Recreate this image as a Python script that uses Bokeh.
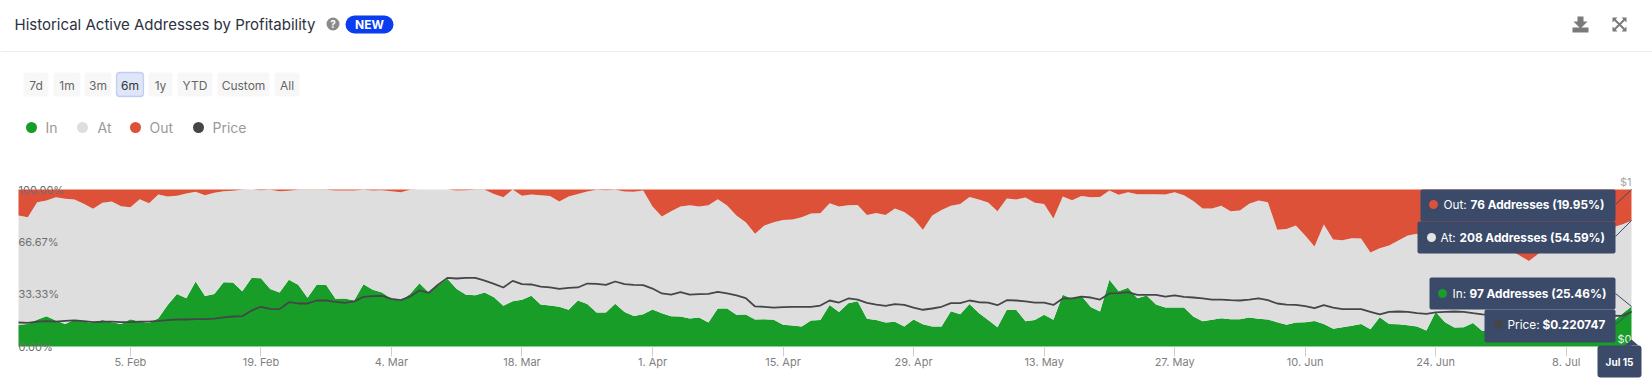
from datetime import datetime, timedelta
from bokeh.plotting import figure
from bokeh.embed import file_html
from bokeh.resources import INLINE
from bokeh.models import (ColumnDataSource, Range1d, LinearAxis, FixedTicker, PrintfTickFormatter,
                          DatetimeTickFormatter, Label, BoxAnnotation, PolyAnnotation, Arrow)

START = datetime(2024, 1, 24)

in_pct = [13.8,14.4,17.0,19.3,16.6,14.4,17.0,15.9,14.9,16.8,15.5,14.4,17.4,15.9,14.9,18.0,26.5,33.5,30.8,41.4,
          32.1,33.5,41.0,40.8,35.2,43.7,43.5,36.7,34.4,42.5,39.3,31.0,39.5,39.1,30.4,30.6,29.3,39.7,36.1,34.4,
          30.4,29.3,33.5,40.3,34.4,38.9,43.1,36.7,32.9,32.7,34.4,31.4,25.9,28.9,29.7,32.3,26.7,26.1,25.3,23.4,
          29.3,27.0,21.7,21.7,27.2,21.9,19.5,20.6,23.6,21.2,19.3,19.1,17.8,18.5,15.3,24.2,24.2,20.2,20.4,17.2,
          17.4,17.0,13.8,13.4,12.7,16.6,16.8,26.5,21.9,27.6,28.9,17.6,16.8,15.3,15.7,12.7,17.2,14.2,12.7,12.7,
          22.5,20.6,27.0,21.4,16.8,12.3,23.4,23.4,16.1,16.8,20.2,17.0,32.9,30.4,32.3,25.1,22.3,42.5,35.2,37.4,
          30.8,32.5,26.7,24.8,24.8,24.8,19.1,16.1,17.0,18.0,17.4,17.4,18.5,17.6,17.2,15.5,13.8,15.3,15.5,16.3,
          14.4,11.3,12.3,13.2,14.4,11.0,18.7,14.4,14.2,13.6,12.7,10.2,21.9,15.5,12.1,12.3,14.9,9.8,10.6,9.3,
          10.2,8.9,9.8,10.6,9.3,10.2,11.0,9.8,10.6,11.9,13.2,15.5,20.8,25.46]

out_pct = [16.6,17.6,8.1,7.0,4.9,5.9,6.4,9.1,12.3,8.5,7.6,10.6,11.3,6.2,8.7,3.2,4.5,4.0,2.5,1.5,
           3.6,2.1,1.1,0.8,0.2,0.0,0.4,0.2,1.1,0.8,0.2,0.2,0.2,0.2,0.6,0.6,0.6,0.2,0.6,0.4,
           1.1,1.7,0.2,0.0,0.0,0.0,0.0,0.6,0.4,0.2,0.2,2.8,4.9,0.0,4.0,3.2,3.6,4.2,7.6,4.5,
           2.8,1.3,0.2,0.4,0.2,1.3,1.5,0.6,10.8,17.2,13.8,10.8,10.0,10.8,10.0,6.2,10.2,16.6,20.8,28.2,
           22.9,20.8,19.5,19.1,17.6,15.3,15.1,8.7,10.8,10.0,9.8,16.3,14.9,16.3,12.1,14.4,18.7,25.7,16.6,13.0,
           10.4,9.3,4.7,6.4,8.3,13.8,5.7,6.4,5.1,8.5,9.3,18.5,4.5,6.8,4.2,4.9,4.7,0.6,3.4,1.7,
           3.0,3.0,3.0,3.2,1.7,3.6,7.4,12.1,12.1,10.4,13.8,13.4,9.1,7.0,8.1,25.7,25.1,22.9,29.3,36.3,
           22.3,31.8,32.3,31.0,31.2,40.1,37.4,35.7,32.5,29.3,28.2,30.4,31.4,29.3,30.4,32.5,33.5,31.4,33.5,35.7,
           38.9,42.0,45.6,41.0,37.8,35.7,33.5,31.4,28.2,26.1,25.1,24.0,22.3,19.95]

price = [.153,.151,.159,.161,.159,.163,.166,.161,.155,.159,.159,.155,.155,.159,.159,.163,.168,.172,.172,.174,
         .174,.178,.185,.191,.193,.229,.253,.240,.238,.282,.274,.274,.293,.293,.284,.278,.287,.316,.321,.323,
         .304,.295,.318,.357,.342,.393,.437,.433,.437,.437,.420,.399,.376,.418,.397,.395,.382,.376,.367,.374,
         .376,.401,.399,.393,.414,.397,.393,.391,.369,.338,.331,.346,.331,.333,.335,.348,.338,.325,.308,.255,
         .253,.248,.251,.253,.253,.253,.261,.293,.280,.306,.299,.278,.267,.259,.270,.265,.248,.234,.242,.253,
         .276,.276,.293,.282,.280,.263,.295,.293,.287,.280,.280,.265,.306,.306,.318,.312,.299,.338,.340,.346,
         .329,.329,.329,.318,.325,.316,.312,.306,.299,.299,.295,.293,.299,.306,.295,.274,.267,.265,.257,.244,
         .263,.248,.238,.238,.238,.221,.204,.221,.223,.221,.212,.208,.217,.221,.223,.221,.212,.204,.202,.200,
         .202,.198,.200,.204,.202,.198,.196,.200,.204,.200,.196,.197,.195,.220747]

at_pct = [round(100 - a - b, 2) for a, b in zip(in_pct, out_pct)]
dates = [START + timedelta(days=i) for i in range(len(in_pct))]

tick_dates = [datetime(2024, 2, 5), datetime(2024, 2, 19), datetime(2024, 3, 4), datetime(2024, 3, 18),
              datetime(2024, 4, 1), datetime(2024, 4, 15), datetime(2024, 4, 29), datetime(2024, 5, 13),
              datetime(2024, 5, 27), datetime(2024, 6, 10), datetime(2024, 6, 24), datetime(2024, 7, 8)]
pct_ticks = [0, 33.33, 66.67, 100]
range_buttons = ["7d", "1m", "3m", "6m", "1y", "YTD", "Custom", "All"]
legend_names = ["In", "At", "Out", "Price"]

GREEN, GREY, RED, DARK = "#189d28", "#dedede", "#dc5138", "#444649"
NAVY = "#3a4a68"
FONT = "Inter"


def ms(d):
    return (d - datetime(1970, 1, 1)).total_seconds() * 1000


W, H = 1652, 381
# The frame fills the whole canvas so nothing in the header or tooltips is clipped;
# the ranges are padded so the data area lands on x 18..1631, y 189..346.
AREA_L, AREA_R, AREA_T, AREA_B = 18, 1631, 189, 346
t0, t1 = ms(dates[0]), ms(dates[-1])
px_x = (t1 - t0) / (AREA_R - AREA_L)
pct_px = 100 / (AREA_B - AREA_T)
price_px = 1 / (AREA_B - AREA_T)

p = figure(width=W, height=H, x_axis_type="datetime", y_axis_type=None,
           x_range=Range1d(t0 - AREA_L * px_x, t1 + (W - AREA_R) * px_x),
           y_range=Range1d(-(H - AREA_B) * pct_px, 100 + AREA_T * pct_px),
           output_backend="svg", toolbar_location=None, min_border=0)
p.extra_y_ranges = {"price": Range1d(-(H - AREA_B) * price_px, 1 + AREA_T * price_px)}
p.grid.visible = False
p.outline_line_color = None
p.border_fill_color = "white"

src = ColumnDataSource(dict(date=dates, In=in_pct, At=at_pct, Out=out_pct, price=price))
p.varea_stack(["In", "At", "Out"], x="date", color=[GREEN, GREY, RED], source=src)
p.line("date", "price", y_range_name="price", source=src, line_color=DARK, line_width=1.8)

xa = p.xaxis[0]
xa.fixed_location = 0
xa.ticker = FixedTicker(ticks=[ms(d) for d in tick_dates])
xa.formatter = DatetimeTickFormatter(days="%-d. %b", months="%-d. %b", hours="%-d. %b",
                                     years="%-d. %b", context=None)
xa.major_tick_in = 0
xa.major_tick_out = 10
xa.minor_tick_line_color = None
xa.major_tick_line_color = "#ccd0d6"
xa.axis_line_color = None
xa.major_label_standoff = -2
xa.major_label_text_font = FONT
xa.major_label_text_font_size = "11px"
xa.major_label_text_color = "#808080"

ya = LinearAxis(ticker=FixedTicker(ticks=pct_ticks), formatter=PrintfTickFormatter(format="%.2f%%"),
                fixed_location=t0)
ya.major_tick_in = 0
ya.major_tick_out = 0
ya.minor_tick_line_color = None
ya.axis_line_color = None
ya.major_label_standoff = 0
ya.major_label_text_font = FONT
ya.major_label_text_font_size = "11px"
ya.major_label_text_color = "#6f6f6f"
p.add_layout(ya, "right")


# page-pixel helpers: (X, Y) are positions in the window
def box(x0, y0, x1, y1, fill, line=None, radius=0, alpha=1.0):
    p.add_layout(BoxAnnotation(left=x0, right=x1, top=y0, bottom=y1,
                               left_units="canvas", right_units="canvas", top_units="canvas", bottom_units="canvas",
                               fill_color=fill, fill_alpha=alpha, line_color=line, line_width=1.3,
                               border_radius=int(round(radius)), editable=False))


def text(x, y, s, size=12, color="#555555", align="left", style="normal", font=FONT):
    p.add_layout(Label(x=x, y=y, x_units="canvas", y_units="canvas", text=s, text_font=font,
                       text_font_size=f"{size}px", text_color=color, text_align=align,
                       text_baseline="middle", text_font_style=style))


def seg(x0, y0, x1, y1, color=NAVY, width=1.0):
    p.add_layout(Arrow(end=None, x_start=x0, y_start=y0, x_end=x1, y_end=y1,
                       start_units="canvas", end_units="canvas",
                       line_color=color, line_width=width))


def poly(pts, color):
    p.add_layout(PolyAnnotation(xs=[a for a, _ in pts], ys=[b for _, b in pts],
                                xs_units="canvas", ys_units="canvas",
                                fill_color=color, fill_alpha=1, line_color=None))


# legend
legend_layout = [(31, 45), (82, 97), (135, 149), (198, 212)]
for name, col, (cx, lx) in zip(legend_names, [GREEN, GREY, RED, DARK], legend_layout):
    box(cx - 5.5, 121.5, cx + 5.5, 132.5, col, radius=6)
    text(lx, 127, name, size=14, color="#9a9a9a")

# header
text(14, 24, "Historical Active Addresses by Profitability", size=15, color="#2b3240")
box(326, 17, 339, 30, "#8a8a8a", radius=7)
text(332.5, 23.5, "?", size=10, color="white", align="center", style="bold")
box(345, 15, 393, 33, "#0a3df0", radius=9)
text(369, 24, "NEW", size=12, color="white", align="center", style="bold")
seg(0, 51, 1652, 51, color="#eeeeee")

# icons
poly([(1577, 16), (1583, 16), (1583, 21), (1587, 21), (1580, 28), (1573, 21), (1577, 21)], "#7a7a7a")
box(1572, 27, 1588, 32, "#7a7a7a")
for (x, y, dx, dy) in [(1612, 17, 1, 1), (1626, 17, -1, 1), (1612, 31, 1, -1), (1626, 31, -1, -1)]:
    seg(x + 2 * dx, y + 2 * dy, 1619, 24, color="#7a7a7a", width=2)
    poly([(x, y), (x + 5 * dx, y), (x, y + 5 * dy)], "#7a7a7a")

# range buttons
button_spans = [(23, 48), (53, 80), (84, 111), (116, 143), (148, 172), (177, 212), (217, 269), (274, 299)]
for name, (x0, x1) in zip(range_buttons, button_spans):
    active = name == "6m"
    box(x0, 72, x1, 96, "#dfe6f8" if active else "#f7f7f7", line="#5b77e0" if active else None, radius=3)
    text((x0 + x1) / 2, 85, name, size=12, color="#333333" if active else "#666666", align="center")

# price axis labels
p.add_layout(Label(x=t1, y=1, y_range_name="price", text="$1", text_align="right", text_baseline="bottom",
                   text_font=FONT, text_font_size="11px", text_color="#a5a5a5", y_offset=1))
p.add_layout(Label(x=t1, y=0, y_range_name="price", text="$0", text_align="right", text_baseline="bottom",
                   text_font=FONT, text_font_size="11px", text_color="#e8f3e8", y_offset=1))

# tooltip connectors
seg(1615, 204, 1631, 189)
seg(1615, 236, 1631, 220)
seg(1615, 293, 1631, 306)
seg(1615, 324, 1631, 311)

# tooltips
tips = [
    (1420, 189, 1615, 221, RED, 1433, 204, "Out: ", 1443, "76 Addresses (19.95%)", 1470),
    (1417, 221, 1615, 253, "#e4e4e4", 1431, 237, "At: ", 1440, "208 Addresses (54.59%)", 1459),
    (1429, 277, 1615, 309, GREEN, 1442, 293, "In: ", 1452, "97 Addresses (25.46%)", 1469),
    (1484, 309, 1615, 342, DARK, 1498, 324, "Price: ", 1507, "$0.220747", 1542),
]
for (x0, y0, x1, y1, col, dx, dy, lab, lx, val, vx) in tips:
    box(x0, y0, x1, y1, NAVY, radius=2)
    box(dx - 4.5, dy - 4.5, dx + 4.5, dy + 4.5, col, radius=5)
    text(lx, dy + 0.5, lab, size=11.8, color="white")
    text(vx, dy + 0.5, val, size=11.8, color="white", style="bold")

poly([(1624, 345), (1631, 339), (1638, 345)], NAVY)
box(1597, 345, 1641, 377, NAVY, radius=3)
text(1619, 361, "Jul 15", size=10, color="white", align="center", style="bold")

open("out.html", "w").write(file_html(p, INLINE))
